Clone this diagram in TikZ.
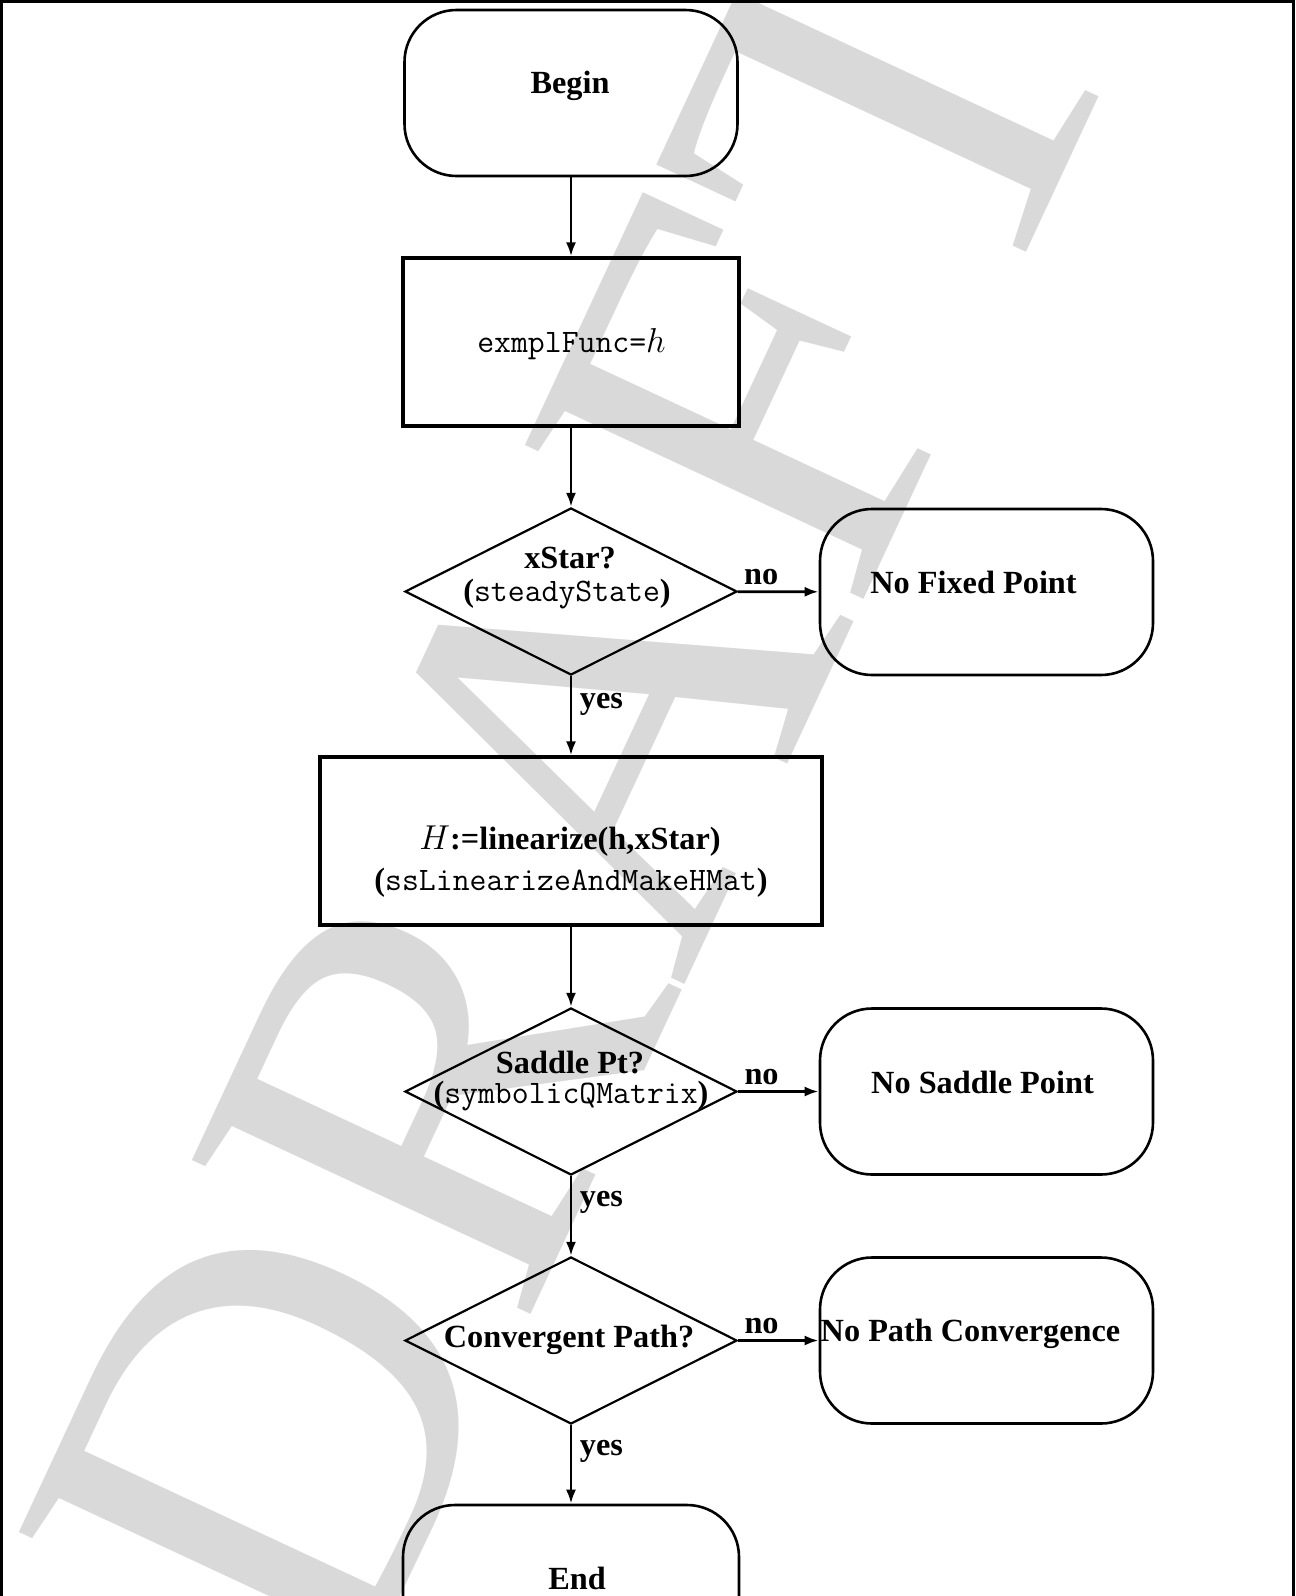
\documentclass[tikz,border=0pt]{standalone}
\usepackage{fontspec}
\setmainfont{Liberation Serif}
\usetikzlibrary{arrows.meta,shapes.geometric}
\definecolor{wm}{RGB}{217,217,217}
\newcommand{\cod}[1]{{\mdseries\ttfamily\fontsize{16.4pt}{19pt}\selectfont #1}}
\begin{document}
\begin{tikzpicture}[x=0.5pt,y=-0.5pt,
  every node/.style={font=\bfseries\fontsize{16.15pt}{19pt}\selectfont},
  term/.style={draw, line width=1.3pt, rounded corners=26pt, minimum width=166.5pt, minimum height=83pt, inner sep=0pt},
  proc/.style={draw, line width=1.8pt, rectangle, inner sep=0pt, minimum height=83.75pt},
  dec/.style={draw, line width=1.1pt, diamond, inner sep=0pt, minimum width=166pt, minimum height=83.5pt},
  txt/.style={anchor=base, inner sep=0pt},
  conn/.style={line width=1.4pt, -{Latex[length=7pt,width=5pt]}},
  lab/.style={inner sep=0pt, anchor=base west}
]
\useasboundingbox (0,0) rectangle (1296,1596);
\begin{scope}
\clip (0,0) rectangle (1296,1596);
% watermark
\node[anchor=base west, rotate=65, inner sep=0pt, text=wm, font=\mdseries\fontsize{284pt}{284pt}\selectfont] (wmark) at (349,1705) {DRAFT};
% page frame
\draw[line width=1.2pt] (1.5,1700) -- (1.5,1.5) -- (1293.5,1.5) -- (1293.5,1700);

% shapes
\node[term] (begin) at (571,93) {};
\node[proc, minimum width=168pt] (init) at (571,342) {};
\node[dec] (d1) at (571,591.5) {};
\node[term] (nf) at (986.5,592) {};
\node[proc, minimum width=251pt] (lin) at (571,841) {};
\node[dec] (d2) at (571,1091.5) {};
\node[term] (ns) at (986.5,1091.5) {};
\node[dec] (d3) at (571,1340.5) {};
\node[term] (np) at (986.5,1340.5) {};
\node[term, minimum width=168pt] (end) at (571,1588) {};

% texts
\node[txt] (tbegin) at (570,93) {Begin};
\node[txt] (tinit) at (571.5,352.5) {\cod{exmplFunc=}$h$};
\node[txt] (td1a) at (570,568.5) {xStar?};
\node[txt] (td1b) at (567,601) {(\cod{steadyState})};
\node[txt] (tnf) at (973.5,593) {No Fixed Point};
\node[txt] (tlina) at (570,849) {$H$:=linearize(h,xStar)};
\node[txt] (tlinb) at (571,890) {(\cod{ssLinearizeAndMakeHMat})};
\node[txt] (td2a) at (570,1073) {Saddle Pt?};
\node[txt] (td2b) at (571,1103) {(\cod{symbolicQMatrix})};
\node[txt] (tns) at (982.5,1093) {No Saddle Point};
\node[txt] (td3) at (569,1347.5) {Convergent Path?};
\node[txt] (tnp) at (970.5,1341.5) {No Path Convergence};
\node[txt] (tend) at (577,1589) {End};

% connectors
\draw[conn] (begin) -- (init);
\draw[conn] (init) -- (d1);
\draw[conn] (d1) -- node[lab, pos=0, xshift=3.75pt, yshift=-16pt] (y1) {yes} (lin);
\draw[conn] (d1) -- node[lab, pos=0, xshift=2.5pt, yshift=3.5pt] (n1) {no} (nf);
\draw[conn] (lin) -- (d2);
\draw[conn] (d2) -- node[lab, pos=0, xshift=3.75pt, yshift=-15pt] (y2) {yes} (d3);
\draw[conn] (d2) -- node[lab, pos=0, xshift=2.5pt, yshift=3.5pt] (n2) {no} (ns);
\draw[conn] (d3) -- node[lab, pos=0, xshift=3.75pt, yshift=-15pt] (y3) {yes} (end);
\draw[conn] (d3) -- node[lab, pos=0, xshift=2.5pt, yshift=3.5pt] (n3) {no} (np);
\end{scope}
\end{tikzpicture}
\end{document}
